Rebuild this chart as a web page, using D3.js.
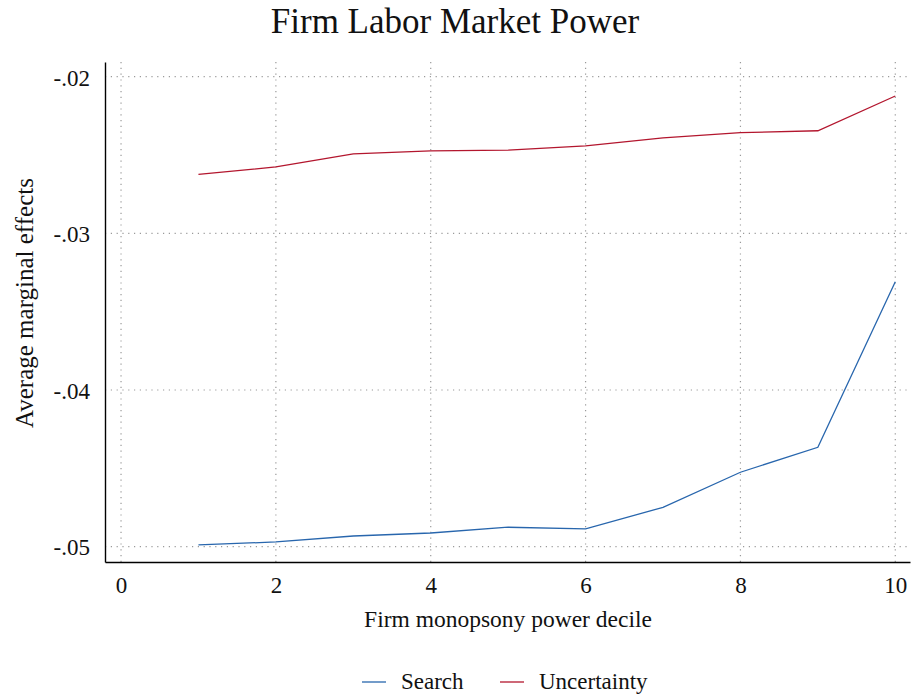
<!DOCTYPE html>
<html>
<head>
<meta charset="utf-8">
<script src="https://cdn.jsdelivr.net/npm/d3@7"></script>
<style>
  body { margin: 0; background: #fff; }
  text { font-family: "Liberation Serif", "DejaVu Serif", serif; fill: #111; }
</style>
</head>
<body>
<svg id="chart" width="911" height="697"></svg>
<script>
// deciles on the x axis
const deciles = [1, 2, 3, 4, 5, 6, 7, 8, 9, 10];
// average marginal effects
const searchValues = [-0.04989, -0.04970, -0.04932, -0.04913, -0.04876, -0.04887, -0.04749, -0.04525, -0.04366, -0.03309];
const uncertaintyValues = [-0.02623, -0.02576, -0.02493, -0.02474, -0.02468, -0.02442, -0.02391, -0.02357, -0.02345, -0.02123];
const xTicks = [0, 2, 4, 6, 8, 10];
const yTicks = [-0.02, -0.03, -0.04, -0.05];
const seriesNames = ["Search", "Uncertainty"];
const seriesColors = ["#2866ad", "#b3162e"];

const svg = d3.select("#chart");

// plot area
const plotLeft = 105, plotRight = 910, plotTop = 62, plotBottom = 562;

let xScale = d3.scaleLinear()
  .domain([-0.207, 10.19])
  .range([plotLeft, plotRight]);
let yScale = d3.scaleLinear()
  .domain([-0.05098, -0.01906])
  .range([plotBottom, plotTop]);

// grid
let grid = svg.append("g").attr("class", "grid");
grid.selectAll("line.h")
  .data(yTicks)
  .enter()
  .append("line")
  .attr("x1", plotLeft)
  .attr("x2", plotRight)
  .attr("y1", d => yScale(d))
  .attr("y2", d => yScale(d));
grid.selectAll("line.v")
  .data(xTicks)
  .enter()
  .append("line")
  .attr("x1", d => xScale(d))
  .attr("x2", d => xScale(d))
  .attr("y1", plotTop)
  .attr("y2", plotBottom);
grid.selectAll("line")
  .attr("stroke", "#9a9a9a")
  .attr("stroke-width", 1.2)
  .attr("stroke-dasharray", "1.2 4.6");

// axes (stata-style labels: "-.02", plain hyphen)
let xAxis = d3.axisBottom(xScale).tickValues(xTicks).tickSize(0)
  .tickFormat(d => String(d));
let yAxis = d3.axisLeft(yScale).tickValues(yTicks).tickSize(0).tickPadding(15)
  .tickFormat(d => "-" + d3.format(".2f")(Math.abs(d)).replace(/^0/, ""));

let gx = svg.append("g").attr("transform", `translate(0,${plotBottom})`).call(xAxis);
let gy = svg.append("g").attr("transform", `translate(${plotLeft},0)`).call(yAxis);
[gx, gy].forEach(g => {
  g.select(".domain").attr("stroke", "#000").attr("stroke-width", 1.4);
  g.selectAll("text")
    .attr("font-family", "Liberation Serif, DejaVu Serif, serif")
    .attr("font-size", 23)
    .attr("fill", "#111");
});
gx.selectAll("text").attr("y", 31).attr("dy", 0);
gy.selectAll("text").attr("dy", "0.36em");

// lines
let lineGen = d3.line()
  .x((d, i) => xScale(deciles[i]))
  .y(d => yScale(d));

[searchValues, uncertaintyValues].forEach((vals, i) => {
  svg.append("path")
    .datum(vals)
    .attr("d", lineGen)
    .attr("fill", "none")
    .attr("stroke", seriesColors[i])
    .attr("stroke-width", 1.3);
});

// titles
svg.append("text")
  .attr("x", 455)
  .attr("y", 33)
  .attr("text-anchor", "middle")
  .attr("font-size", 35)
  .text("Firm Labor Market Power");

svg.append("text")
  .attr("x", 508)
  .attr("y", 627)
  .attr("text-anchor", "middle")
  .attr("font-size", 23.5)
  .text("Firm monopsony power decile");

svg.append("text")
  .attr("transform", "translate(33,303) rotate(-90)")
  .attr("text-anchor", "middle")
  .attr("font-size", 25)
  .text("Average marginal effects");

// legend
let legendX = [362, 500];
let legend = svg.append("g");
seriesNames.forEach((name, i) => {
  legend.append("line")
    .attr("x1", legendX[i])
    .attr("x2", legendX[i] + 24)
    .attr("y1", 682)
    .attr("y2", 682)
    .attr("stroke", seriesColors[i])
    .attr("stroke-width", 1.3);
  legend.append("text")
    .attr("x", legendX[i] + 39)
    .attr("y", 689)
    .attr("font-size", 23)
    .text(name);
});
</script>
</body>
</html>
